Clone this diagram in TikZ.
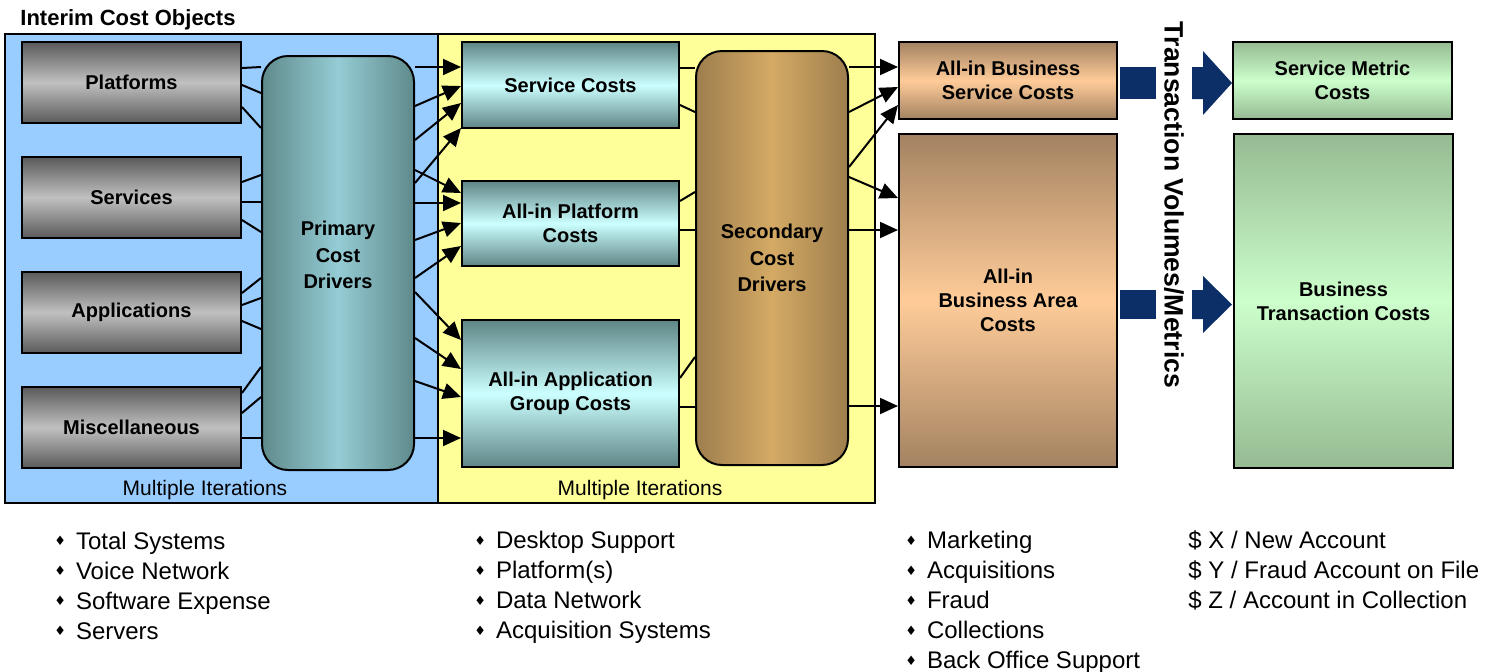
\documentclass[tikz,border=0pt]{standalone}
\usepackage{fontspec}
\setmainfont{Liberation Sans}
\newfontfamily\symfont{DejaVu Sans}
\usepackage{tikz}
\usetikzlibrary{arrows.meta,positioning}
\definecolor{panelBlue}{HTML}{99CCFF}
\definecolor{panelYellow}{HTML}{FFFF99}
\definecolor{grayDark}{HTML}{5A5A5A}
\definecolor{grayLight}{HTML}{C0C0C0}
\definecolor{tealDark}{HTML}{5F8A8B}
\definecolor{tealLight}{HTML}{95CCD5}
\definecolor{cyanDark}{HTML}{5E8586}
\definecolor{cyanLight}{HTML}{CCFFFF}
\definecolor{brownDark}{HTML}{9E7E4E}
\definecolor{brownLight}{HTML}{D4AA64}
\definecolor{orangeDark}{HTML}{A38261}
\definecolor{orangeLight}{HTML}{FFCC99}
\definecolor{greenDark}{HTML}{96BA92}
\definecolor{greenLight}{HTML}{CCFFCC}
\definecolor{navyArrow}{HTML}{0B2F66}
\tikzset{myBox/.style={draw=black, line width=1pt, align=center, font=\bfseries\fontsize{10}{12}\selectfont}}
\tikzset{grayBox/.style={myBox, top color=grayDark, bottom color=grayDark, middle color=grayLight, minimum width=109.5pt, minimum height=40.5pt}}
\tikzset{cyanBox/.style={myBox, top color=cyanDark, bottom color=cyanDark, middle color=cyanLight, minimum width=108.5pt}}
\tikzset{orangeBox/.style={myBox, top color=orangeDark, bottom color=orangeDark, middle color=orangeLight, minimum width=109pt}}
\tikzset{greenBox/.style={myBox, top color=greenDark, bottom color=greenDark, middle color=greenLight, minimum width=109.5pt}}
\tikzset{pillar/.style={myBox, rounded corners=13pt, minimum width=76pt, minimum height=207pt, font=\bfseries\fontsize{10}{13.2}\selectfont}}
\tikzset{link/.style={line width=1pt, color=black}}
\tikzset{arr/.style={link, -{Triangle[length=9pt,width=8pt]}}}
\tikzset{listText/.style={anchor=west, align=left, inner sep=0pt, font=\fontsize{12}{15}\selectfont}}
\newcommand{\itemDia}{{\symfont\fontsize{6.5}{6.5}\selectfont\raisebox{1.6pt}{♦}}\hspace{5pt}}
\pgfdeclarelayer{bg}
\pgfdeclarelayer{links}
\pgfsetlayers{bg,links,main}

\begin{document}
\begin{tikzpicture}[x=0.5pt,y=-0.5pt]
	\useasboundingbox (0,0) rectangle (1511,671);
	\begin{pgfonlayer}{bg}
		\filldraw[fill=panelBlue, line width=1pt](5,34) rectangle (438,503);
		\filldraw[fill=panelYellow, line width=1pt](438,34) rectangle (875,503);
	\end{pgfonlayer}
	\node[anchor=west, inner sep=0pt, font=\bfseries\fontsize{11}{13}\selectfont] (title) at (20,20) {Interim Cost Objects};
	\node at (205,490) (iterA) {\fontsize{10.5}{12}\selectfont Multiple Iterations};
	\node at (640,490) (iterB) {\fontsize{10.5}{12}\selectfont Multiple Iterations};
	
	% interim cost objects
	\node[grayBox] (plat) at (131.5,82.5) {Platforms};
	\node[grayBox] (serv) at (131.5,197.5) {Services};
	\node[grayBox] (appl) at (131.5,312.5) {Applications};
	\node[grayBox] (misc) at (131.5,427.5) {Miscellaneous};
	\node[pillar, left color=tealDark, right color=tealDark, middle color=tealLight] (prim) at (338,263) {Primary\\Cost\\Drivers\\[-5pt]};
	
	\node[cyanBox, minimum height=43pt] (svcC) at (570.5,85) {Service Costs};
	\node[cyanBox, minimum height=42.5pt] (platC) at (570.5,223.5) {All-in Platform\\Costs};
	\node[cyanBox, minimum height=73.5pt] (appC) at (570.5,393.5) {All-in Application\\Group Costs};
	\node[pillar, left color=brownDark, right color=brownDark, middle color=brownLight] (sec) at (772,258) {Secondary\\Cost\\Drivers};
	
	\node[orangeBox, minimum height=38.5pt] (bsc) at (1008,80.5) {All-in Business\\Service Costs};
	\node[orangeBox, minimum height=166.5pt] (bac) at (1008,300.5) {All-in\\Business Area\\Costs};
	\node[greenBox, minimum height=38.5pt] (smc) at (1342.5,80.5) {Service Metric\\Costs};
	\node[greenBox, minimum height=167pt] (btc) at (1343.5,301) {Business\\Transaction Costs};
	
	\node[rotate=-90, font=\bfseries\fontsize{13.3}{16}\selectfont] (tvm) at (1174,205) {Transaction Volumes/Metrics};
	\fill[navyArrow](1120,67) rectangle (1156,99);
	\fill[navyArrow](1192,67)--(1203,67)--(1203,51)--(1232,83)--(1203,115)--(1203,99)--(1192,99)--cycle;
	\fill[navyArrow](1120,290) rectangle (1156,319);
	\fill[navyArrow](1192,290)--(1203,290)--(1203,276)--(1232,304.5)--(1203,333)--(1203,319)--(1192,319)--cycle;
	
	\begin{pgfonlayer}{links}
		\foreach \a/\b in {68/67,85/93,107/128} \draw[link](plat.east |- 0,\a)--(prim.west |- 0,\b);
		\foreach \a/\b in {182/175,202/202,220/232} \draw[link](serv.east |- 0,\a)--(prim.west |- 0,\b);
		\foreach \a/\b in {293/278,305/298,321/329} \draw[link](appl.east |- 0,\a)--(prim.west |- 0,\b);
		\foreach \a/\b in {393/367,413/397,438/438} \draw[link](misc.east |- 0,\a)--(prim.west |- 0,\b);
		
		\foreach \a/\b in {67/67,106/86,140/103,183/128} \draw[arr](prim.east |- 0,\a)--(svcC.west |- 0,\b);
		\foreach \a/\b in {170/193,203/203,240/223,278/246} \draw[arr](prim.east |- 0,\a)--(platC.west |- 0,\b);
		\foreach \a/\b in {292/340,338/369,381/397,438/438} \draw[arr](prim.east |- 0,\a)--(appC.west |- 0,\b);
		
		\foreach \a/\b in {68/68,105/112} \draw[link](svcC.east |- 0,\a)--(sec.west |- 0,\b);
		\foreach \a/\b in {201/192,230/230} \draw[link](platC.east |- 0,\a)--(sec.west |- 0,\b);
		\foreach \a/\b in {378/357,407/407} \draw[link](appC.east |- 0,\a)--(sec.west |- 0,\b);
		
		\foreach \a/\b in {67/67,112/87,167/105} \draw[arr](sec.east |- 0,\a)--(bsc.west |- 0,\b);
		\foreach \a/\b in {177/198,230/230,406/406} \draw[arr](sec.east |- 0,\a)--(bac.west |- 0,\b);
	\end{pgfonlayer}
	
	% cost pools
	\node[listText] (listA) at (54,585.5) {\itemDia Total Systems\\\itemDia Voice Network\\\itemDia Software Expense\\\itemDia Servers};
	\node[listText] (listB) at (474,587) {\itemDia Desktop Support\\\itemDia Platform(s)\\\itemDia Data Network\\\itemDia Acquisition Systems};
	\node[listText] (listC) at (905,602) {\itemDia Marketing\\\itemDia Acquisitions\\\itemDia Fraud\\\itemDia Collections\\\itemDia Back Office Support};
	\node[listText] (listD) at (1188,570.5) {\$ X / New Account\\\$ Y / Fraud Account on File\\\$ Z / Account in Collection};
\end{tikzpicture}
\end{document}
